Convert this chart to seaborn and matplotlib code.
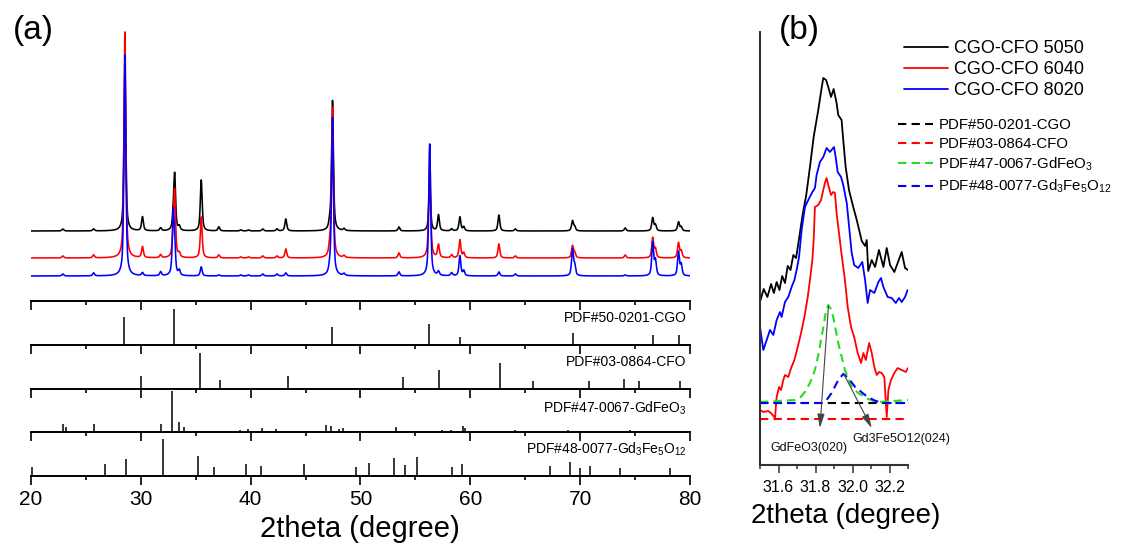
import numpy as np
import pandas as pd
import matplotlib
matplotlib.use("Agg")
import matplotlib.pyplot as plt
import seaborn as sns
from matplotlib.lines import Line2D
from matplotlib.ticker import MultipleLocator

sns.set_theme(style="white")
plt.rcParams["font.family"] = ["Liberation Sans", "DejaVu Sans"]
plt.rcParams["mathtext.default"] = "regular"
plt.rcParams["text.color"] = "black"
plt.rcParams["axes.labelcolor"] = "black"
plt.rcParams["xtick.color"] = "black"

# ---------------- (a) measured XRD patterns: peak table ----------------
samples = ["CGO-CFO 5050", "CGO-CFO 6040", "CGO-CFO 8020"]
sample_colors = ["#000000", "#ff0000", "#0000ff"]
sample_offsets = [70, 43, 25]

peak_pos = [22.9, 25.7, 28.55, 30.15, 31.8, 32.95, 33.08, 33.5, 35.5, 37.1,
            39.1, 39.8, 41.1, 42.4, 43.2, 47.2, 47.45, 48.5, 53.5, 56.3,
            57.1, 58.3, 59.05, 59.4, 62.6, 64.1, 69.3, 69.5, 74.1, 76.6,
            76.85, 78.95, 79.2]
peaks_5050 = [2, 2, 160, 14, 3, 10, 55, 4, 51, 4,
              1, 1, 2, 2, 12, 6, 130, 2, 4, 47,
              16, 2, 14, 4, 16, 2, 10, 4, 3, 13,
              6, 9, 4]
peaks_6040 = [2, 3, 226, 11, 3, 20, 62, 4, 41, 3,
              1, 1, 2, 2, 9, 8, 150, 2, 5, 106,
              13, 3, 18, 5, 14, 2, 12, 5, 3, 20,
              9, 15, 7]
peaks_8020 = [2, 3, 221, 3, 4, 60, 22, 5, 9, 1,
              1, 1, 2, 2, 3, 5, 158, 2, 4, 132,
              4, 3, 20, 5, 4, 2, 26, 10, 1, 33,
              15, 24, 11]

# ---------------- (a) reference stick patterns ----------------
ref_names = ["PDF#50-0201-CGO", "PDF#03-0864-CFO",
             "PDF#47-0067-GdFeO$_3$", "PDF#48-0077-Gd$_3$Fe$_5$O$_{12}$"]
cgo_pos = [28.50, 33.03, 47.42, 56.28, 59.02, 69.36, 76.65, 79.00]
cgo_int = [28, 36, 18, 21, 8, 12, 10, 10]
cfo_pos = [29.99, 35.42, 37.24, 43.44, 53.85, 57.16, 62.74, 65.69, 70.76,
           74.00, 75.34, 79.10]
cfo_int = [12.7, 36, 9, 12.7, 12, 19, 25.7, 8, 8, 9.3, 8, 8]
gfo_pos = [22.88, 23.16, 25.70, 31.84, 32.81, 33.45, 33.96, 39.03, 39.73,
           41.06, 42.28, 46.87, 47.32, 48.08, 48.45, 53.21, 57.40, 58.22,
           59.37, 59.50, 64.08, 68.90, 74.50, 77.50, 78.60]
gfo_int = [8, 5, 8.7, 8.7, 41, 10.3, 5, 2, 3, 4, 3, 7.7, 6, 3, 4, 5, 2, 2,
           6, 4, 2, 2, 2, 1.5, 1.5]
gig_pos = [20.12, 26.74, 28.65, 32.05, 35.21, 36.70, 39.58, 40.95, 44.83,
           49.60, 50.81, 53.06, 54.03, 55.18, 58.34, 59.22, 67.26, 69.03,
           70.00, 70.91, 73.60, 78.20]
gig_int = [9.3, 11.7, 17, 37, 19.7, 8.7, 12, 9.7, 11.7, 9.3, 12.7, 18.3, 11,
           19.3, 8.7, 11.7, 10.3, 13.7, 8.3, 10, 8.3, 8.3]

# ---------------- (b) zoom on the 31.5-32.3 degree region ----------------
b5050_x = [31.503, 31.52, 31.54, 31.56, 31.575, 31.59, 31.605, 31.62, 31.635,
           31.65, 31.665, 31.68, 31.695, 31.71, 31.73, 31.75, 31.77, 31.79,
           31.815, 31.833, 31.842, 31.857, 31.869, 31.884, 31.898, 31.914,
           31.923, 31.941, 31.95, 31.963, 31.981, 32.004, 32.023, 32.05,
           32.068, 32.077, 32.085, 32.104, 32.122, 32.143, 32.167, 32.185,
           32.203, 32.226, 32.244, 32.266, 32.284, 32.3]
b5050_y = [165, 176, 168, 181, 172, 183, 175, 189, 182, 199, 195, 210, 207,
           225, 250, 270, 298, 328, 355, 377, 387, 385, 378, 368, 376, 362,
           350, 345, 325, 298, 275, 258, 245, 224, 219, 225, 194, 205, 198,
           215, 198, 217, 200, 193, 202, 213, 197, 195]
b6040_x = [31.5, 31.518, 31.545, 31.559, 31.581, 31.59, 31.603, 31.614,
           31.626, 31.635, 31.653, 31.668, 31.686, 31.704, 31.722, 31.74,
           31.758, 31.77, 31.783, 31.79, 31.797, 31.815, 31.83, 31.842,
           31.851, 31.86, 31.869, 31.884, 31.896, 31.905, 31.914, 31.927,
           31.938, 31.945, 31.959, 31.974, 31.992, 32.009, 32.028, 32.046,
           32.059, 32.072, 32.09, 32.104, 32.118, 32.131, 32.143, 32.158,
           32.172, 32.185, 32.194, 32.208, 32.226, 32.244, 32.266, 32.288,
           32.3]
b6040_y = [55, 53, 54, 52, 47, 68, 78, 75, 85, 90, 88, 97, 105, 118, 132,
           148, 168, 185, 205, 225, 258, 260, 265, 275, 282, 287, 280, 270,
           273, 272, 252, 232, 215, 205, 185, 158, 138, 128, 112, 102, 112,
           105, 122, 112, 98, 90, 93, 92, 88, 48, 75, 85, 92, 97, 95, 93, 97]
b8020_x = [31.5, 31.518, 31.536, 31.554, 31.572, 31.59, 31.608, 31.617,
           31.635, 31.653, 31.671, 31.686, 31.698, 31.711, 31.725, 31.743,
           31.761, 31.783, 31.797, 31.806, 31.824, 31.842, 31.86, 31.878,
           31.9, 31.909, 31.92, 31.938, 31.95, 31.969, 31.986, 31.995, 32.009,
           32.031, 32.053, 32.068, 32.082, 32.095, 32.118, 32.14, 32.154,
           32.167, 32.19, 32.212, 32.234, 32.251, 32.266, 32.284, 32.298]
b8020_y = [138, 115, 125, 135, 130, 145, 153, 148, 163, 168, 178, 185, 195,
           208, 235, 258, 265, 273, 277, 290, 303, 308, 317, 313, 318, 308,
           293, 288, 280, 262, 230, 213, 200, 197, 203, 185, 162, 175, 172,
           183, 187, 178, 168, 167, 162, 167, 163, 168, 175]

ref_cgo_x = [31.5, 32.3]
ref_cgo_y = [62, 62]
ref_cfo_x = [31.5, 32.3]
ref_cfo_y = [46, 46]
ref_gfo_x = [31.5, 31.689, 31.72, 31.743, 31.77, 31.797, 31.815, 31.833,
             31.855, 31.869, 31.883, 31.896, 31.923, 31.959, 31.995, 32.031,
             32.085, 32.139, 32.3]
ref_gfo_y = [63, 65, 68, 73, 82, 95, 110, 128, 152, 160, 156, 148, 122, 95,
             78, 72, 66, 63, 65]
ref_gig_x = [31.5, 31.833, 31.86, 31.887, 31.923, 31.95, 31.977, 32.014,
             32.068, 32.113, 32.158, 32.3]
ref_gig_y = [62, 62, 65, 72, 85, 91, 87, 78, 70, 65, 62, 62]
ref_colors = ["#000000", "#ff0000", "#22dd22", "#0000ff"]


def pattern(two_theta, heights, offset, fwhm=0.2, eta=0.65):
    """Pseudo-Voigt sum of the tabulated reflections on a flat offset."""
    y = np.full_like(two_theta, float(offset))
    hw = fwhm / 2.0
    for p, h in zip(peak_pos, heights):
        d = two_theta - p
        lor = 1.0 / (1.0 + (d / hw) ** 2)
        gau = np.exp(-np.log(2) * (d / hw) ** 2)
        y += h * (eta * lor + (1 - eta) * gau)
    return y


W, H = 1121, 550
fig = plt.figure(figsize=(W / 100, H / 100), dpi=100)
fig.patch.set_facecolor("white")


def box(x0, y0, x1, y1):
    return [x0 / W, 1 - y1 / H, (x1 - x0) / W, (y1 - y0) / H]


row_h = 43.75
ax_top = fig.add_axes(box(31, 20, 690, 301))
stick_axes = [fig.add_axes(box(31, 301 + i * row_h, 690, 301 + (i + 1) * row_h))
              for i in range(4)]
ax_b = fig.add_axes(box(760, 32, 908, 465))

# ---- measured patterns ----
tt = np.arange(20.0, 80.0001, 0.01)
frames = []
for name, heights, off in zip(samples, [peaks_5050, peaks_6040, peaks_8020],
                              sample_offsets):
    frames.append(pd.DataFrame({"two_theta": tt,
                                "intensity": pattern(tt, heights, off),
                                "sample": name}))
df_a = pd.concat(frames, ignore_index=True)
sns.lineplot(data=df_a, x="two_theta", y="intensity", hue="sample",
             hue_order=samples, palette=sample_colors, estimator=None,
             sort=False, linewidth=1.15, legend=False, ax=ax_top)


def style_row(ax, labels=False):
    ax.set_xlim(20, 80)
    ax.set_facecolor("none")
    for s in ("top", "left", "right"):
        ax.spines[s].set_visible(False)
    ax.spines["bottom"].set_color("black")
    ax.spines["bottom"].set_linewidth(1.4)
    ax.set_yticks([])
    ax.set_ylabel("")
    ax.set_xlabel("")
    ax.xaxis.set_major_locator(MultipleLocator(10))
    ax.xaxis.set_minor_locator(MultipleLocator(5))
    ax.tick_params(axis="x", which="both", direction="out", bottom=True,
                   color="black", labelcolor="black", width=1.2,
                   labelbottom=labels, labelsize=15, pad=4)
    ax.tick_params(axis="x", which="major", length=6.3)
    ax.tick_params(axis="x", which="minor", length=3.2)


style_row(ax_top)
ax_top.set_ylim(0, 281)

stick_sets = [(cgo_pos, cgo_int), (cfo_pos, cfo_int), (gfo_pos, gfo_int),
              (gig_pos, gig_int)]
label_y = [0.6, 0.61, 0.55, 0.62]
for i, (ax, (pos, inten), name) in enumerate(zip(stick_axes, stick_sets, ref_names)):
    ax.vlines(pos, 0, inten, color="black", linewidth=1.1)
    ax.set_ylim(0, row_h)
    style_row(ax, labels=(i == 3))
    ax.text(0.995, label_y[i], name, transform=ax.transAxes, ha="right",
            va="center", fontsize=10, color="black")

stick_axes[3].set_xlabel("2theta (degree)", fontsize=21, color="black")
stick_axes[3].xaxis.label.set_va("center")
stick_axes[3].xaxis.set_label_coords(0.499, (476 - 529) / row_h)

fig.text(13 / W, 1 - 31 / H, "(a)", fontsize=24, va="center", ha="left")

# ---- (b) zoomed region ----
for xs, ys, c in zip([b5050_x, b6040_x, b8020_x], [b5050_y, b6040_y, b8020_y],
                     sample_colors):
    sns.lineplot(x=xs, y=ys, color=c, linewidth=1.3, estimator=None,
                 sort=False, ax=ax_b)
for xs, ys, c in zip([ref_cgo_x, ref_cfo_x, ref_gfo_x, ref_gig_x],
                     [ref_cgo_y, ref_cfo_y, ref_gfo_y, ref_gig_y], ref_colors):
    sns.lineplot(x=xs, y=ys, color=c, linewidth=1.5, estimator=None,
                 sort=False, linestyle=(0, (4, 2.5)), ax=ax_b)

ax_b.set_xlim(31.5, 32.3)
ax_b.set_ylim(0, 433)
ax_b.set_facecolor("none")
for s in ("top", "right"):
    ax_b.spines[s].set_visible(False)
for s in ("left", "bottom"):
    ax_b.spines[s].set_color("#333333")
    ax_b.spines[s].set_linewidth(1.5)
ax_b.set_yticks([])
ax_b.xaxis.set_major_locator(MultipleLocator(0.2))
ax_b.xaxis.set_minor_locator(MultipleLocator(0.1))
ax_b.tick_params(axis="x", which="both", direction="out", bottom=True,
                 color="#333333", labelcolor="black", width=1.1,
                 labelsize=11.5, pad=5)
ax_b.tick_params(axis="x", which="major", length=5.5)
ax_b.tick_params(axis="x", which="minor", length=3)
ax_b.set_ylabel("")
ax_b.set_xlabel("2theta (degree)", fontsize=20, color="black")
ax_b.xaxis.label.set_va("center")
ax_b.xaxis.set_label_coords((845.5 - 760) / 148, (465 - 516) / 433)

arrow_kw = dict(arrowstyle="-|>,head_length=0.7,head_width=0.18",
                color="#444444", lw=0.8, shrinkA=0, shrinkB=0)
ax_b.annotate("", xy=(31.824, 37), xytext=(31.870, 159), arrowprops=arrow_kw)
ax_b.annotate("", xy=(32.104, 37), xytext=(31.950, 92), arrowprops=arrow_kw)
ax_b.text(31.762, 17, "GdFeO3(020)", fontsize=9, ha="center", va="center",
          color="#111111")
ax_b.text(32.262, 26, "Gd3Fe5O12(024)", fontsize=9, ha="center", va="center",
          color="#111111")

fig.text(779 / W, 1 - 31 / H, "(b)", fontsize=24, va="center", ha="left")

solid_handles = [Line2D([], [], color=c, lw=1.3) for c in sample_colors]
fig.legend(solid_handles, samples, loc="upper left",
           bbox_to_anchor=(904 / W, 1 - 40 / H), frameon=False, fontsize=13,
           handlelength=2.45, handletextpad=0.3, labelspacing=0.22,
           borderpad=0, borderaxespad=0, labelcolor="black")
dash_handles = [Line2D([], [], color=c, lw=1.5, linestyle=(0, (4, 2.5)))
                for c in ref_colors]
fig.legend(dash_handles, ref_names, loc="upper left",
           bbox_to_anchor=(898 / W, 1 - 118 / H), frameon=False, fontsize=10.8,
           handlelength=2.3, handletextpad=0.4, labelspacing=0.32,
           borderpad=0, borderaxespad=0, labelcolor="black")

fig.savefig("out.png", dpi=100, facecolor="white")
